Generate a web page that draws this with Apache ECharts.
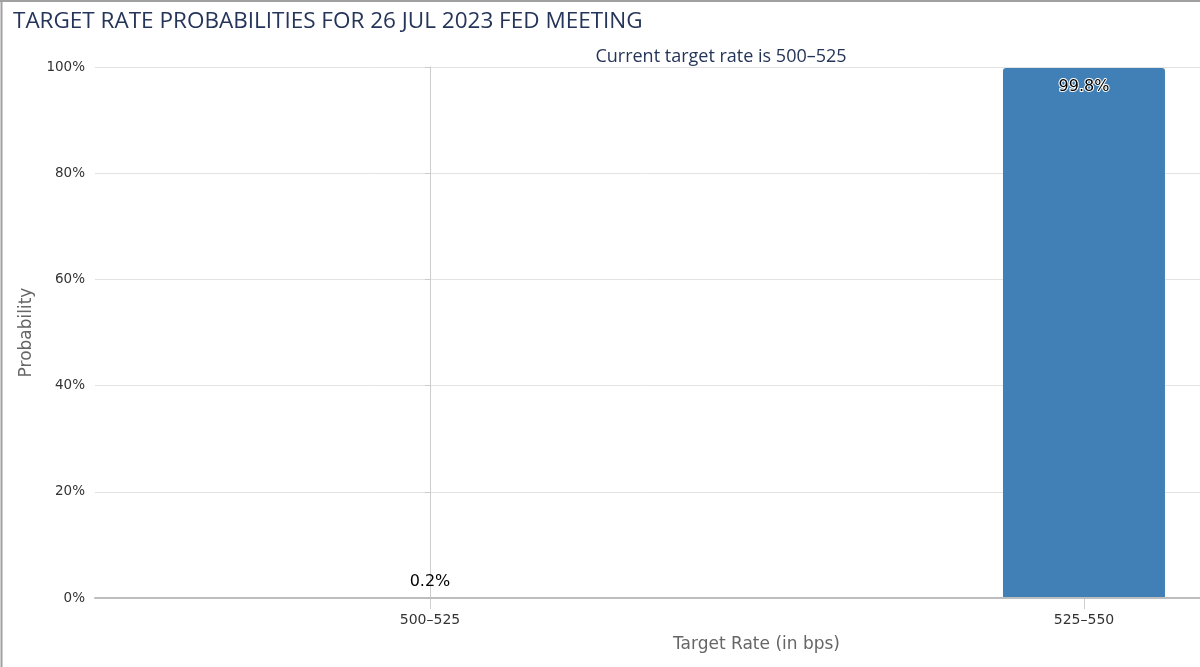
<!DOCTYPE html>
<html>
<head>
<meta charset="utf-8">
<script src="https://cdn.jsdelivr.net/npm/echarts@6/dist/echarts.min.js"></script>
<style>
html,body{margin:0;padding:0;background:#fff;}
#c{width:1200px;height:667px;}
</style>
</head>
<body>
<div id="c"></div>
<script>
const titleText = 'TARGET RATE PROBABILITIES FOR 26 JUL 2023 FED MEETING';
const subtitleText = 'Current target rate is 500\u2013525';
const categories = ['500\u2013525', '525\u2013550'];
const probabilities = [0.2, 99.8];
const yTicks = [0, 20, 40, 60, 80, 100];

const chart = echarts.init(document.getElementById('c'));
const catIdx = categories.map((c, i) => i);
const xMin = -0.5122, xMax = 1.1774;

chart.setOption({
  animation: false,
  backgroundColor: '#fff',
  textStyle: { fontFamily: 'DejaVu Sans' },
  graphic: [
    { type: 'line', shape: { x1: 1.5, y1: 0, x2: 1.5, y2: 667 }, style: { stroke: '#a0a0a0', lineWidth: 2 }, z: 100 },
    { type: 'line', shape: { x1: 0, y1: 1, x2: 1200, y2: 1 }, style: { stroke: '#a0a0a0', lineWidth: 2 }, z: 100 }
  ],
  title: [
    { text: titleText, left: 8, top: 5,
      textStyle: { fontFamily: 'Open Sans', fontWeight: 'normal', fontSize: 22.5, color: '#253459' } },
    { text: subtitleText, left: 716, top: 43, textAlign: 'center',
      textStyle: { fontFamily: 'Open Sans', fontWeight: 'normal', fontSize: 18, color: '#253459' } }
  ],
  grid: { left: 95, top: 67, right: 0, bottom: 69, containLabel: false },
  xAxis: [{
    type: 'value',
    min: xMin,
    max: xMax,
    name: 'Target Rate (in bps)',
    nameLocation: 'middle',
    nameGap: 38,
    nameTextStyle: { fontSize: 17, color: '#666', padding: [0, 0, 0, 218] },
    axisLine: { show: false },
    axisTick: { show: true, customValues: catIdx, length: 11, lineStyle: { color: '#d0d0d0' } },
    axisLabel: { customValues: catIdx, formatter: v => categories[Math.round(v)] || '', fontSize: 14, color: '#333', margin: 15 },
    splitLine: { show: true, lineStyle: { color: '#e3e3e3', width: 1 } }
  }, {
    type: 'value',
    min: xMin,
    max: xMax,
    position: 'bottom',
    z: 10,
    axisLine: { show: true, lineStyle: { color: '#bdbdbd', width: 2 } },
    axisTick: { show: false },
    axisLabel: { show: false },
    splitLine: { show: false }
  }],
  yAxis: {
    type: 'value',
    min: yTicks[0],
    max: yTicks[yTicks.length - 1],
    interval: 20,
    name: 'Probability',
    nameLocation: 'middle',
    nameGap: 56,
    nameRotate: 90,
    nameTextStyle: { fontSize: 17, color: '#666' },
    axisLine: { show: true, lineStyle: { color: '#cccccc' } },
    axisTick: { show: true, length: 5, lineStyle: { color: '#cccccc' } },
    axisLabel: { formatter: '{value}%', fontSize: 13.5, color: '#333', margin: 10 },
    splitLine: { show: true, lineStyle: { color: '#e3e3e3' } }
  },
  series: [{
    type: 'bar',
    xAxisIndex: 0,
    barWidth: 162,
    itemStyle: { color: '#4180b6', borderRadius: [3, 3, 0, 0] },
    data: probabilities.map((v, i) => ({
      value: [i, v],
      label: {
        show: true,
        position: v > 50 ? 'insideTop' : 'top',
        distance: v > 50 ? 11 : 7,
        formatter: v + '%',
        fontSize: 16,
        color: '#000',
        textBorderColor: v > 50 ? '#fff' : 'transparent',
        textBorderWidth: v > 50 ? 2 : 0
      }
    }))
  }]
});
</script>
</body>
</html>
